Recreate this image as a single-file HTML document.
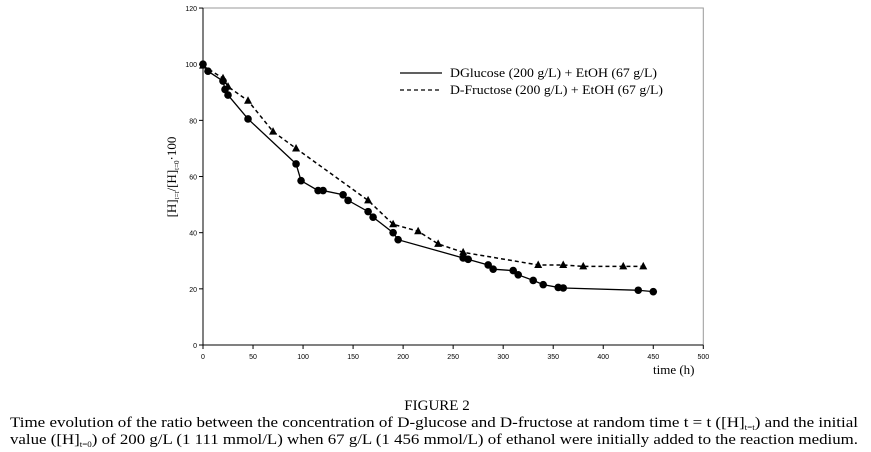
<!DOCTYPE html>
<html><head><meta charset="utf-8"><style>body{margin:0;background:#fff}svg{display:block}</style></head>
<body>
<svg id="chart" width="871" height="452" xmlns="http://www.w3.org/2000/svg" font-family="Liberation Sans, sans-serif">
<g id="axes"></g>
<g id="series"></g>
<g>
<line x1="400" y1="73" x2="442" y2="73" stroke="#000" stroke-width="1.2"/>
<text x="450" y="77" font-family="Liberation Serif, serif" font-size="12.5" textLength="207" lengthAdjust="spacingAndGlyphs">DGlucose (200 g/L) + EtOH (67 g/L)</text>
<line x1="400" y1="90" x2="442" y2="90" stroke="#000" stroke-width="1.2" stroke-dasharray="4,3"/>
<text x="450" y="94" font-family="Liberation Serif, serif" font-size="12.5" textLength="213" lengthAdjust="spacingAndGlyphs">D-Fructose (200 g/L) + EtOH (67 g/L)</text>
</g>
<text x="653" y="374" font-family="Liberation Serif, serif" font-size="13">time (h)</text>
<text transform="translate(176,177) rotate(-90)" text-anchor="middle" font-family="Liberation Serif, serif" font-size="13">[H]<tspan font-size="7" dy="3">t=t</tspan><tspan dy="-3">/[H]</tspan><tspan font-size="7" dy="3">t=0</tspan><tspan dy="-3">·100</tspan></text>
<text x="437" y="410" text-anchor="middle" font-family="Liberation Serif, serif" font-size="15">FIGURE 2</text>
<text x="10" y="427" font-family="Liberation Serif, serif" font-size="15" textLength="848" lengthAdjust="spacingAndGlyphs">Time evolution of the ratio between the concentration of D-glucose and D-fructose at random time t = t ([H]<tspan font-size="8" dy="3">t=t</tspan><tspan dy="-3">) and the initial</tspan></text>
<text x="10" y="444" font-family="Liberation Serif, serif" font-size="15" textLength="848" lengthAdjust="spacingAndGlyphs">value ([H]<tspan font-size="8" dy="3">t=0</tspan><tspan dy="-3">) of 200 g/L (1 111 mmol/L) when 67 g/L (1 456 mmol/L) of ethanol were initially added to the reaction medium.</tspan></text>
</svg>
<script>
const glucoseT=[0,5,20,22,25,45,93,98,115,120,140,145,165,170,190,195,260,265,285,290,310,315,330,340,355,360,435,450];
const glucoseV=[100,97.5,94,91,89,80.5,64.5,58.5,55,55,53.5,51.5,47.5,45.5,40,37.5,31,30.5,28.5,27,26.5,25,23,21.5,20.5,20.3,19.5,19];
const fructoseT=[0,20,25,45,70,93,165,190,215,235,260,335,360,380,420,440];
const fructoseV=[99.5,95,92,87,76,70,51.5,43,40.5,36,33,28.5,28.5,28,28,28];
const xTicks=[0,50,100,150,200,250,300,350,400,450,500];
const yTicks=[0,20,40,60,80,100,120];
const NS='http://www.w3.org/2000/svg';
const X=v=>203+v*1.0006, Y=v=>345-v*2.808;
const ax=document.getElementById('axes'), se=document.getElementById('series');
function mk(tag,at,p){const e=document.createElementNS(NS,tag);for(const k in at)e.setAttribute(k,at[k]);p.appendChild(e);return e;}
let f=mk('path',{d:`M${X(0)},${Y(120)}H${X(500)}V${Y(0)}`,fill:'none',stroke:'#999'},ax);


let a=mk('path',{d:`M${X(0)},${Y(120)}V${Y(0)}H${X(500)}`,fill:'none',stroke:'#000'},ax);


xTicks.forEach(t=>{mk('line',{x1:X(t),x2:X(t),y1:Y(0),y2:Y(0)+4,stroke:'#000'},ax);
const l=mk('text',{x:X(t),y:Y(0)+14,'text-anchor':'middle','font-size':7},ax);l.textContent=t;

});
yTicks.forEach(t=>{mk('line',{x1:X(0)-4,x2:X(0),y1:Y(t),y2:Y(t),stroke:'#000'},ax);
const l=mk('text',{x:X(0)-6,y:Y(t)+3,'text-anchor':'end','font-size':7},ax);l.textContent=t;

});
let p1=mk('polyline',{points:glucoseT.map((t,i)=>X(t)+','+Y(glucoseV[i])).join(' '),fill:'none',stroke:'#000','stroke-width':1.3},se);


let p2=mk('polyline',{points:fructoseT.map((t,i)=>X(t)+','+Y(fructoseV[i])).join(' '),fill:'none',stroke:'#000','stroke-width':1.5,'stroke-dasharray':'4,3'},se);


glucoseT.forEach((t,i)=>{const c=mk('circle',{cx:X(t),cy:Y(glucoseV[i]),r:3.8,fill:'#000'},se);

});
fructoseT.forEach((t,i)=>{const x=X(t),y=Y(fructoseV[i]);const c=mk('path',{d:`M${x},${y-4.5}L${x+4},${y+3}L${x-4},${y+3}Z`,fill:'#000'},se);

});
</script>
</body></html>
